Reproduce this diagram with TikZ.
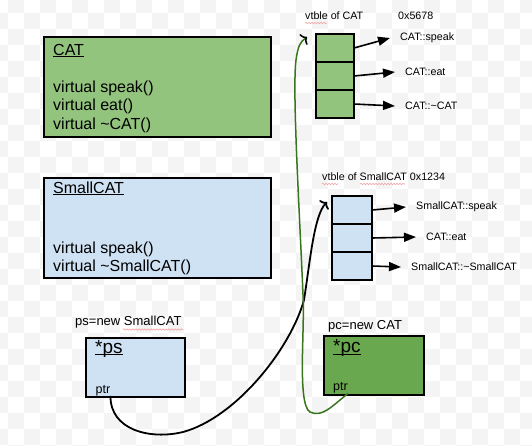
\documentclass[tikz,border=0pt]{standalone}
\usepackage{fontspec}
\setmainfont{Liberation Sans}
\usetikzlibrary{arrows.meta,positioning,decorations.pathmorphing}
\definecolor{catgreen}{HTML}{93C47D}
\definecolor{pcgreen}{HTML}{6AA84F}
\definecolor{scblue}{HTML}{CFE2F3}
\definecolor{ptrgreen}{HTML}{38761D}
\definecolor{chkgray}{HTML}{F4F4F4}
\definecolor{spellred}{HTML}{F2A0A0}
\newcommand{\ulbl}[1]{\underline{\smash{#1}}}

\begin{document}
\begin{tikzpicture}[x=1pt,y=-1pt,node distance=28pt,on grid,
	classbox/.style={draw,line width=2pt,minimum width=227pt,minimum height=100pt,anchor=north west,inner sep=0pt},
	objbox/.style={draw,line width=2pt,minimum width=99pt,minimum height=59pt,anchor=north west,inner sep=0pt},
	cell/.style={draw,line width=2pt,minimum width=38pt,minimum height=28pt,inner sep=0pt,outer sep=0pt},
	big/.style={font=\fontsize{16}{18.5}\selectfont,inner sep=0pt},
	small/.style={font=\fontsize{10.7}{12}\selectfont,inner sep=0pt},
	mid/.style={font=\fontsize{13}{15}\selectfont,inner sep=0pt},
	objname/.style={font=\fontsize{19}{22}\selectfont,inner sep=0pt},
	ptrf/.style={font=\fontsize{12.5}{14}\selectfont,inner sep=0pt},
	fn/.style={font=\fontsize{10.7}{12}\selectfont,anchor=west,inner xsep=10pt,inner ysep=0pt},
	vfn/.style={-{Triangle[length=12pt,width=9pt]},line width=1.6pt},
	ptr/.style={line width=1.8pt,-{Computer Modern Rightarrow[length=5pt,width=13pt,color=black]}},
	spell/.style={spellred,line width=0.6pt,decorate,decoration={snake,amplitude=0.7pt,segment length=3pt}}]
	\useasboundingbox (0,0) rectangle (532,445);
	% checker background
	\begin{scope}
	\clip (0,0) rectangle (532,445);
	\foreach \i in {-1,...,33}
		\foreach \j in {-1,...,27}
			{\ifodd\numexpr\i+\j\relax \fill[chkgray] (8+16*\i,13+16*\j) rectangle ++(16,16); \fi}
	\end{scope}

	% classes
	\node[classbox,fill=catgreen] (cat) at (43,36) {};
	\node[big,anchor=base west] (catname) at (53,55) {\ulbl{CAT}};
	\node[big,anchor=north west,align=left] (catfns) at (53,80.3) {virtual speak()\\virtual eat()\\virtual \textasciitilde CAT()};

	\node[classbox,fill=scblue] (scat) at (43,177) {};
	\node[big,anchor=base west] (scatname) at (53,193) {\ulbl{SmallCAT}};
	\node[big,anchor=north west,align=left] (scatfns) at (53,241.5) {virtual speak()\\virtual \textasciitilde SmallCAT()};

	% vtable of CAT
	\node[small,anchor=base west] (vtc) at (305,19) {vtble of CAT};
	\node[small,anchor=base west] (adc) at (398,19) {0x5678};
	\node[cell,fill=catgreen] (vc1) at (335,48) {};
	\node[cell,fill=catgreen,below=of vc1] (vc2) {};
	\node[cell,fill=catgreen,below=of vc2] (vc3) {};
	\node[fn] (f1) at (390,38) {CAT::speak};
	\node[fn] (f2) at (395,72) {CAT::eat};
	\node[fn] (f3) at (395,106) {CAT::\textasciitilde CAT};
	\draw[vfn] (vc1.east) -- (f1.west);
	\draw[vfn] (vc2.east) -- (f2.west);
	\draw[vfn] (vc3.east) -- (f3.west);

	% vtable of SmallCAT
	\node[small,anchor=base west] (vts) at (322,180) {vtble of SmallCAT 0x1234};
	\node[cell,fill=scblue,minimum width=40pt] (vs1) at (352,210) {};
	\node[cell,fill=scblue,minimum width=40pt,below=of vs1] (vs2) {};
	\node[cell,fill=scblue,minimum width=40pt,below=of vs2] (vs3) {};
	\node[fn] (g1) at (406,207) {SmallCAT::speak};
	\node[fn] (g2) at (416,237) {CAT::eat};
	\node[fn] (g3) at (401,267) {SmallCAT::\textasciitilde SmallCAT};
	\draw[vfn] (vs1.east) -- (g1.west);
	\draw[vfn] (vs2.east) -- (g2.west);
	\draw[vfn] (vs3.east) -- (g3.west);

	% objects
	\node[mid,anchor=base west] (psnew) at (75,325) {ps=new SmallCAT};
	\node[objbox,fill=scblue] (ps) at (85,337) {};
	\node[objname,anchor=base west] (psname) at (95,353) {\ulbl{*ps}};
	\node[ptrf,anchor=base west] (psptr) at (95.5,393) {ptr};

	\node[mid,anchor=base west] (pcnew) at (328,329) {pc=new CAT};
	\node[objbox,fill=pcgreen,minimum width=100pt] (pc) at (323,335) {};
	\node[objname,anchor=base west] (pcname) at (333,352.7) {\ulbl{*pc}};
	\node[ptrf,anchor=base west] (pcptr) at (333,390.7) {ptr};

	% spelling marks
	\draw[spell] (305,23) -- (327,23);
	\draw[spell] (322,184) -- (338,184);
	\draw[spell] (360,184) -- (405,184);
	\draw[spell] (123,329.5) -- (183,329.5);

	% vptr links
	\coordinate (sctip) at (327,202);
	\coordinate (cattip) at (307,37);
	\draw[ptr] (psptr.south east) .. controls (110,430) and (150,440) .. (183,432)
		.. controls (235,418) and (290,350) .. (304,300)
		.. controls (310,262) and (314,215) .. (sctip);
	\draw[ptr,ptrgreen,line width=1.5pt] (pcptr.south east) .. controls (332,406) and (322,418) .. (310,412)
		.. controls (297,404) and (305,330) .. (303,295)
		.. controls (300,220) and (292,90) .. (296,60)
		.. controls (298,46) and (300,42) .. (cattip);
\end{tikzpicture}
\end{document}
